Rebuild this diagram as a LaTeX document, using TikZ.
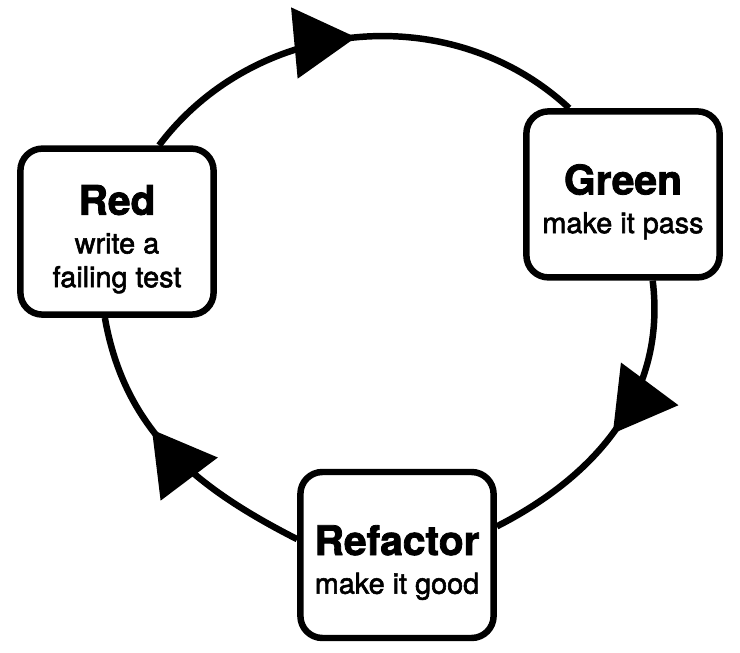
\documentclass[tikz,border=0pt]{standalone}
\usepackage{fontspec}
\setmainfont{TeX Gyre Heros}
\newfontfamily\stagefont[FakeBold=2]{TeX Gyre Heros}
\usetikzlibrary{arrows.meta,decorations.markings}

\newcommand{\stagetitle}[1]{{\fontsize{29}{30}\selectfont\bfseries\rule{0pt}{32pt}#1}}

\tikzset{
    stage/.style={draw, line width=4.6pt, fill=white, rounded corners=0.55cm,
        minimum width=4.83cm, minimum height=4.15cm, align=center,
        font=\stagefont\fontsize{20.5}{24}\selectfont},
    cycle/.style={line width=4.6pt, postaction={decorate},
        decoration={markings, mark=at position #1 with
            {\arrow{Triangle[length=1.55cm,width=1.75cm]}}}}
}

\begin{document}
\begin{tikzpicture}
    \useasboundingbox (0,0) rectangle (18.5,16.3);

    \node[stage] (red) at (2.925,10.51) {\stagetitle{Red}\\[3.5pt] write a\hspace*{0.9em}\\ failing test};
    \node[stage] (green) at (15.575,11.44) {\stagetitle{Green}\\[3.5pt] make it pass};
    \node[stage] (refactor) at (9.925,2.425) {\stagetitle{Refactor}\\[3.5pt] make it good};

    \draw[cycle=0.5] (red.64) to[out=53,in=137] (green.122);
    \draw[cycle=0.52] (green.-71) to[out=-83,in=27] (refactor.16);
    \draw[cycle=0.6] (refactor.171) to[out=153,in=-80] (red.-98);
\end{tikzpicture}
\end{document}
